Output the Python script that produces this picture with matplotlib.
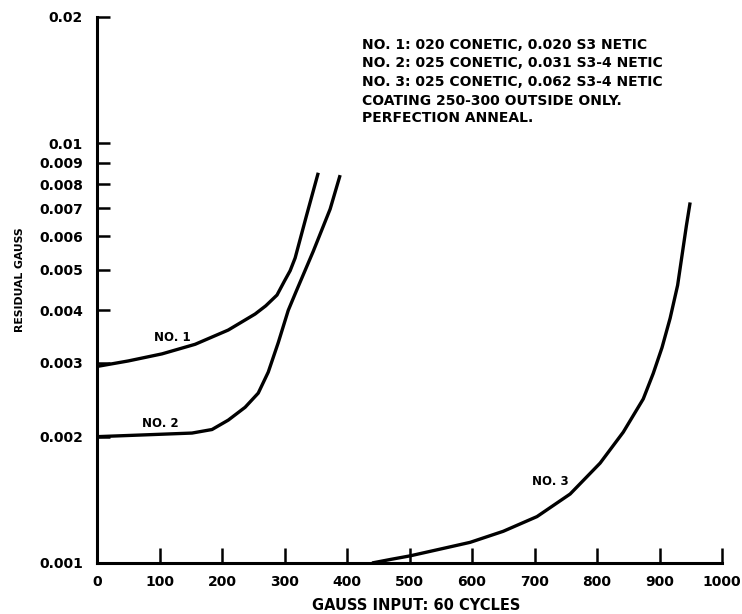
import matplotlib
matplotlib.use("Agg")
import matplotlib.pyplot as plt
from matplotlib.ticker import FixedLocator, FixedFormatter, NullLocator

# ---- data ----
x_no1 = [0, 50, 104, 157, 210, 253, 270, 288, 300, 309, 317, 335, 354]
y_no1 = [0.00294, 0.00303, 0.00315, 0.00332, 0.00359, 0.00392, 0.0041, 0.00435, 0.0047, 0.00497, 0.00533, 0.00671, 0.00851]

x_no2 = [0, 77, 152, 184, 210, 237, 258, 274, 290, 306, 319, 346, 373, 389]
y_no2 = [0.0020, 0.00202, 0.00204, 0.00208, 0.00219, 0.00235, 0.00254, 0.00285, 0.00335, 0.0040, 0.00445, 0.00553, 0.00697, 0.0084]

x_no3 = [440, 470, 501, 550, 597, 650, 704, 757, 805, 842, 874, 890, 904, 917, 929, 937, 943, 949]
y_no3 = [0.00100, 0.00102, 0.00104, 0.00108, 0.00112, 0.00119, 0.00129, 0.00146, 0.00173, 0.00205, 0.00246, 0.00283, 0.00326, 0.00383, 0.00459, 0.00553, 0.00636, 0.00723]

x_ticks = [0, 100, 200, 300, 400, 500, 600, 700, 800, 900, 1000]
y_ticks = [0.001, 0.002, 0.003, 0.004, 0.005, 0.006, 0.007, 0.008, 0.009, 0.01, 0.02]
y_tick_labels = ["0.001", "0.002", "0.003", "0.004", "0.005", "0.006", "0.007", "0.008", "0.009", "0.01", "0.02"]

notes = [
    "NO. 1: 020 CONETIC, 0.020 S3 NETIC",
    "NO. 2: 025 CONETIC, 0.031 S3-4 NETIC",
    "NO. 3: 025 CONETIC, 0.062 S3-4 NETIC",
    "COATING 250-300 OUTSIDE ONLY.",
    "PERFECTION ANNEAL.",
]

plt.rcParams["font.family"] = ["DejaVu Sans"]
plt.rcParams["font.weight"] = "bold"

W, H = 742, 614
fig = plt.figure(figsize=(W / 100, H / 100), dpi=100)
ax = fig.add_axes([97 / W, 1 - 563 / H, (722 - 97) / W, (563 - 17) / H])

lw = 2.4
ax.plot(x_no1, y_no1, color="black", lw=lw, solid_capstyle="butt", solid_joinstyle="round")
ax.plot(x_no2, y_no2, color="black", lw=lw, solid_capstyle="butt", solid_joinstyle="round")
ax.plot(x_no3, y_no3, color="black", lw=lw, solid_capstyle="butt", solid_joinstyle="round")

ax.set_yscale("log")
ax.set_xlim(0, 1000)
ax.set_ylim(0.001, 0.02)

ax.xaxis.set_major_locator(FixedLocator(x_ticks))
ax.yaxis.set_major_locator(FixedLocator(y_ticks))
ax.yaxis.set_major_formatter(FixedFormatter(y_tick_labels))
ax.yaxis.set_minor_locator(NullLocator())
ax.xaxis.set_minor_locator(NullLocator())

for s in ["top", "right"]:
    ax.spines[s].set_visible(False)
for s in ["left", "bottom"]:
    ax.spines[s].set_linewidth(2.2)

ax.tick_params(axis="x", direction="in", length=11, width=1.8, pad=9, labelsize=10)
ax.tick_params(axis="y", direction="in", length=9, width=1.8, pad=10, labelsize=10)
for lab in ax.get_xticklabels() + ax.get_yticklabels():
    lab.set_fontweight("bold")

# curve labels
ax.text(121, 0.00344, "NO. 1", fontsize=8.5, fontweight="bold", ha="center", va="center")
ax.text(101, 0.00215, "NO. 2", fontsize=8.5, fontweight="bold", ha="center", va="center")
ax.text(725, 0.00156, "NO. 3", fontsize=8.5, fontweight="bold", ha="center", va="center")

# notes block
ys = [45, 63, 82, 101, 118]
for t, yp in zip(notes, ys):
    fig.text(362 / W, 1 - yp / H, t, fontsize=10, fontweight="bold", ha="left", va="center")

fig.text(416 / W, 1 - 605 / H, "GAUSS INPUT: 60 CYCLES", fontsize=10.5, fontweight="bold",
         ha="center", va="center")
fig.text(20 / W, 1 - 280 / H, "RESIDUAL GAUSS", fontsize=7.8, fontweight="bold",
         ha="center", va="center", rotation=90)

fig.savefig("out.png", dpi=100, facecolor="white")
